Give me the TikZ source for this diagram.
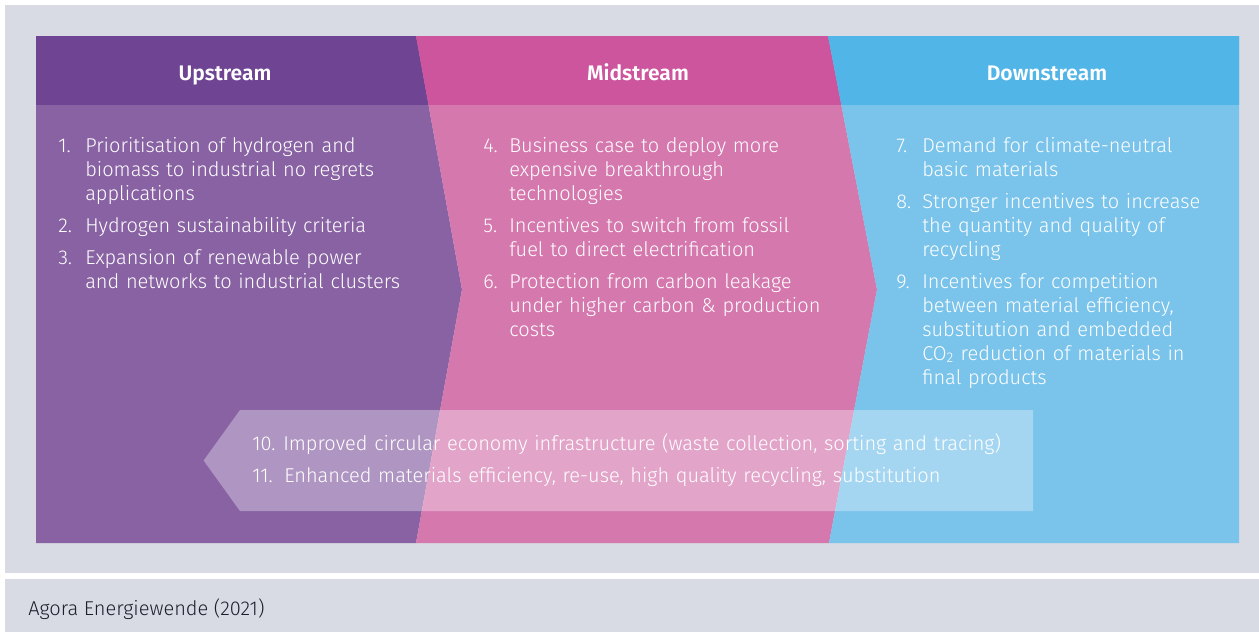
\documentclass[tikz,border=0pt]{standalone}
\usepackage{fontspec}
\setmainfont{Fira Sans Light}[BoldFont={Fira Sans SemiBold}]
\definecolor{bggray}{HTML}{D8DBE3}
\definecolor{uphead}{HTML}{6F4593}
\definecolor{upbody}{HTML}{8862A3}
\definecolor{midhead}{HTML}{CC559E}
\definecolor{midbody}{HTML}{D578AE}
\definecolor{dnhead}{HTML}{52B5E7}
\definecolor{dnbody}{HTML}{7AC3EB}
\definecolor{foottext}{HTML}{1E1E2C}
\tikzset{
  bodyfont/.style={font=\fontsize{15}{18}\selectfont},
  itemtxt/.style={bodyfont, anchor=base west, inner sep=0pt, text=white, text width=25cm, align=left},
  itemnum/.style={bodyfont, anchor=base west, inner sep=0pt, text=white},
  headtxt/.style={anchor=base, inner sep=0pt, text=white, font=\bfseries\fontsize{15.8}{18}\selectfont},
  foot/.style={bodyfont, anchor=base west, inner sep=0pt, text=foottext},
}
\begin{document}
\begin{tikzpicture}[x=0.75pt,y=-0.75pt]
\useasboundingbox (0,0) rectangle (1259,632);
\fill[white] (0,0) rectangle (1259,632);
\fill[bggray] (5,5) rectangle (1259,572.5);
\fill[bggray] (5,579) rectangle (1259,632);
% bodies
\fill[upbody] (36,36) -- (416,36) -- (462,289.5) -- (416,543) -- (36,543) -- cycle;
\fill[midbody] (416,36) -- (828,36) -- (877,289.5) -- (829,543) -- (416,543) -- (462,289.5) -- cycle;
\fill[dnbody] (828,36) -- (1239,36) -- (1239,543) -- (829,543) -- (877,289.5) -- cycle;
% headers
\begin{scope}
\clip (0,36) rectangle (1259,104);
\fill[uphead] (36,36) -- (416,36) -- (462,289.5) -- (416,543) -- (36,543) -- cycle;
\fill[midhead] (416,36) -- (828,36) -- (877,289.5) -- (829,543) -- (416,543) -- (462,289.5) -- cycle;
\fill[dnhead] (828,36) -- (1239,36) -- (1239,543) -- (829,543) -- (877,289.5) -- cycle;
\end{scope}
% back arrow
\fill[white, fill opacity=0.33] (1033,410) -- (240,410) -- (203.6,460.5) -- (240,511) -- (1033,511) -- cycle;

\node[headtxt] (hup) at (225,80) {Upstream};
\node[headtxt] (hmid) at (638,80) {Midstream};
\node[headtxt] (hdn) at (1047,80) {Downstream};

\node[itemnum] (n1) at (58,152) {1.};
\node[itemtxt] (t1) at (85,152) {Prioritisation of hydrogen and\\biomass to industrial no regrets\\applications};
\node[itemnum] (n2) at (58,232) {2.};
\node[itemtxt] (t2) at (85,232) {Hydrogen sustainability criteria};
\node[itemnum] (n3) at (58,264) {3.};
\node[itemtxt] (t3) at (85,264) {Expansion of renewable power\\and networks to industrial clusters};

\node[itemnum] (n4) at (483,152) {4.};
\node[itemtxt] (t4) at (509,152) {Business case to deploy more\\expensive breakthrough\\technologies};
\node[itemnum] (n5) at (483,232) {5.};
\node[itemtxt] (t5) at (509,232) {Incentives to switch from fossil\\fuel to direct electrification};
\node[itemnum] (n6) at (483,288) {6.};
\node[itemtxt] (t6) at (509,288) {Protection from carbon leakage\\under higher carbon \& production\\costs};

\node[itemnum] (n7) at (896,152) {7.};
\node[itemtxt] (t7) at (922,152) {Demand for climate-neutral\\basic materials};
\node[itemnum] (n8) at (896,208) {8.};
\node[itemtxt] (t8) at (922,208) {Stronger incentives to increase\\the quantity and quality of\\recycling};
\node[itemnum] (n9) at (896,288) {9.};
\node[itemtxt] (t9) at (922,288) {Incentives for competition\\between material efficiency,\\substitution and embedded\\CO\textsubscript{2} reduction of materials in\\final products};

\node[itemnum] (n10) at (252,450) {10.};
\node[itemtxt] (t10) at (283,450) {Improved circular economy infrastructure (waste collection, sorting and tracing)};
\node[itemnum] (n11) at (252,482) {11.};
\node[itemtxt] (t11) at (284,482) {Enhanced materials efficiency, re-use, high quality recycling, substitution};

\node[foot] (src) at (28,615) {Agora Energiewende (2021)};
\end{tikzpicture}
\end{document}
